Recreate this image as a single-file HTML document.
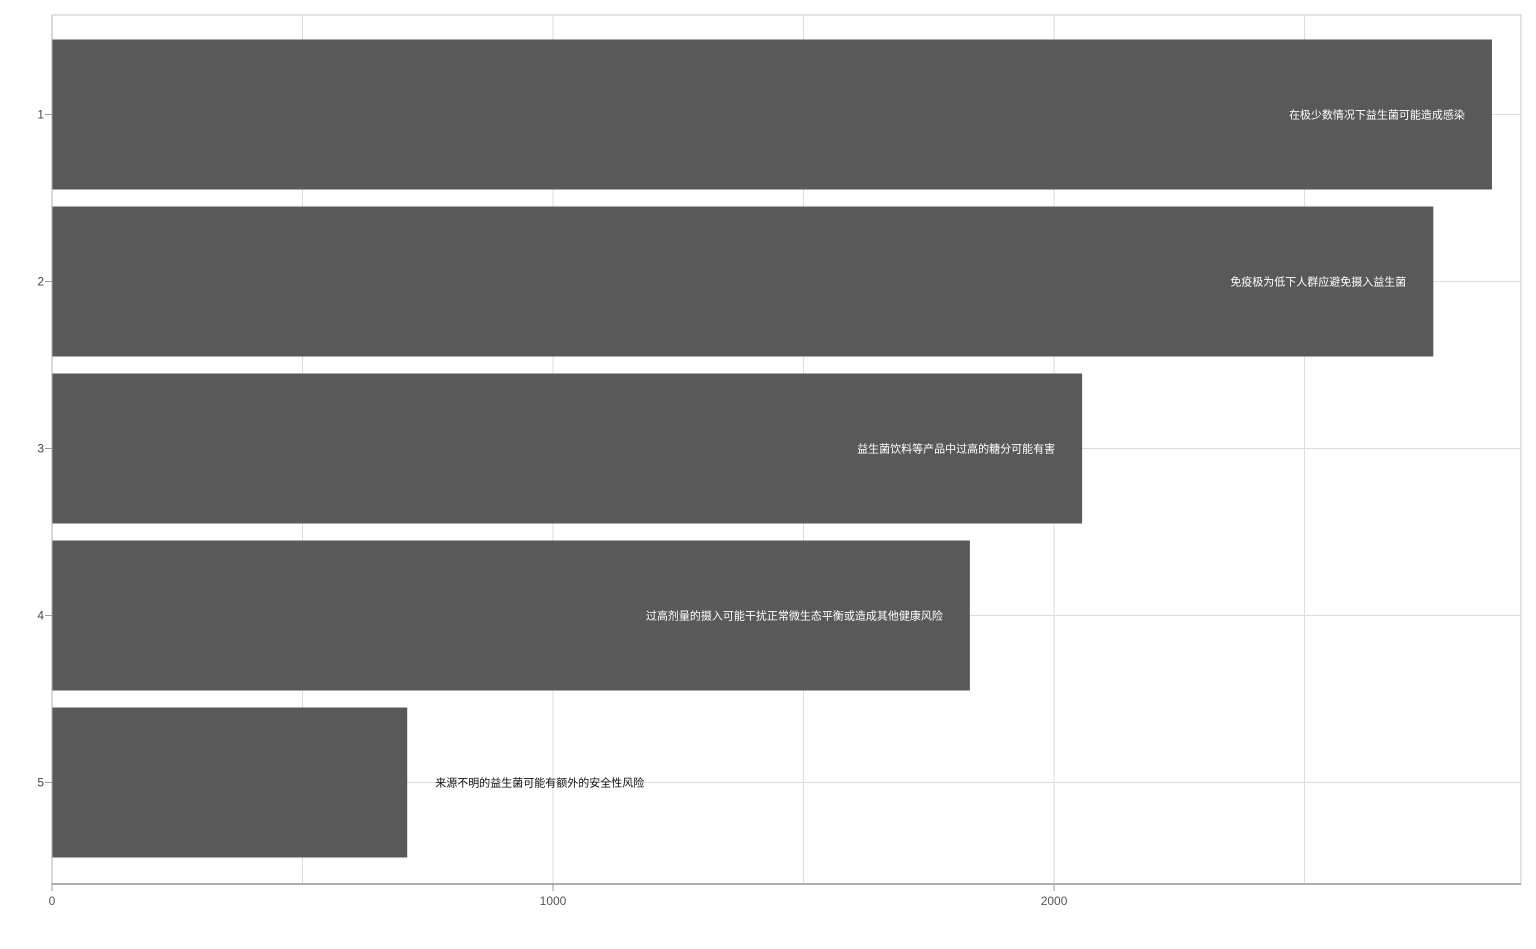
<!DOCTYPE html>
<html><head><meta charset="utf-8"><style>
body{margin:0;background:#fff;}
svg{display:block;font-family:"Liberation Sans","Noto Sans CJK SC",sans-serif;}
</style></head><body>
<svg id="chart" width="1536" height="949"></svg>
<script>
const categories=["1","2","3","4","5"];
const values=[2874,2757,2056,1832,709];
const labels=["在极少数情况下益生菌可能造成感染","免疫极为低下人群应避免摄入益生菌","益生菌饮料等产品中过高的糖分可能有害","过高剂量的摄入可能干扰正常微生态平衡或造成其他健康风险","来源不明的益生菌可能有额外的安全性风险"];
const gridTicks=[500,1000,1500,2000,2500];
const tickLabels=[0,1000,2000];
const NS="http://www.w3.org/2000/svg";
const svg=document.getElementById('chart');
const L=52,R=1521,T=15,B=884,xMax=2932;
const x=v=>L+v/xMax*(R-L);
const y=i=>114.5+i*167;
const bh=150;
function mk(t,a,p){const e=document.createElementNS(NS,t);for(const k in a)e.setAttribute(k,a[k]);(p||svg).appendChild(e);return e;}
const frame=mk('rect',{x:L,y:T,width:R-L,height:B-T,fill:'none',stroke:'#c8c8c8','stroke-width':1});


gridTicks.forEach(v=>{const g=mk('line',{x1:x(v),x2:x(v),y1:T,y2:B,stroke:'#dcdcdc'});

});
categories.forEach((c,i)=>{const g=mk('line',{x1:L,x2:R,y1:y(i),y2:y(i),stroke:'#dcdcdc'});

});
categories.forEach((c,i)=>{
const r=mk('rect',{x:L,y:y(i)-bh/2,width:x(values[i])-L,height:bh,fill:'#595959'});


const inside=x(values[i])-L>600;
const t=mk('text',{x:inside?x(values[i])-27:x(values[i])+28,y:y(i)+4,'font-size':11,fill:inside?'#fff':'#111','text-anchor':inside?'end':'start'});
t.textContent=labels[i];


const tk=mk('line',{x1:45,x2:L,y1:y(i),y2:y(i),stroke:'#999'});


const yl=mk('text',{x:44,y:y(i)+4,'font-size':12,fill:'#444','text-anchor':'end'});
yl.textContent=c;


});
const ax=mk('line',{x1:L,x2:R,y1:B,y2:B,stroke:'#b0b0b0','stroke-width':2});


const ay=mk('line',{x1:L,x2:L,y1:T,y2:B,stroke:'#b0b0b0','stroke-width':1});


tickLabels.forEach(v=>{
const tk=mk('line',{x1:x(v),x2:x(v),y1:B,y2:B+7,stroke:'#999'});


const t=mk('text',{x:x(v),y:905,'font-size':12,fill:'#555','text-anchor':'middle'});
t.textContent=v;


});
</script>
</body></html>
